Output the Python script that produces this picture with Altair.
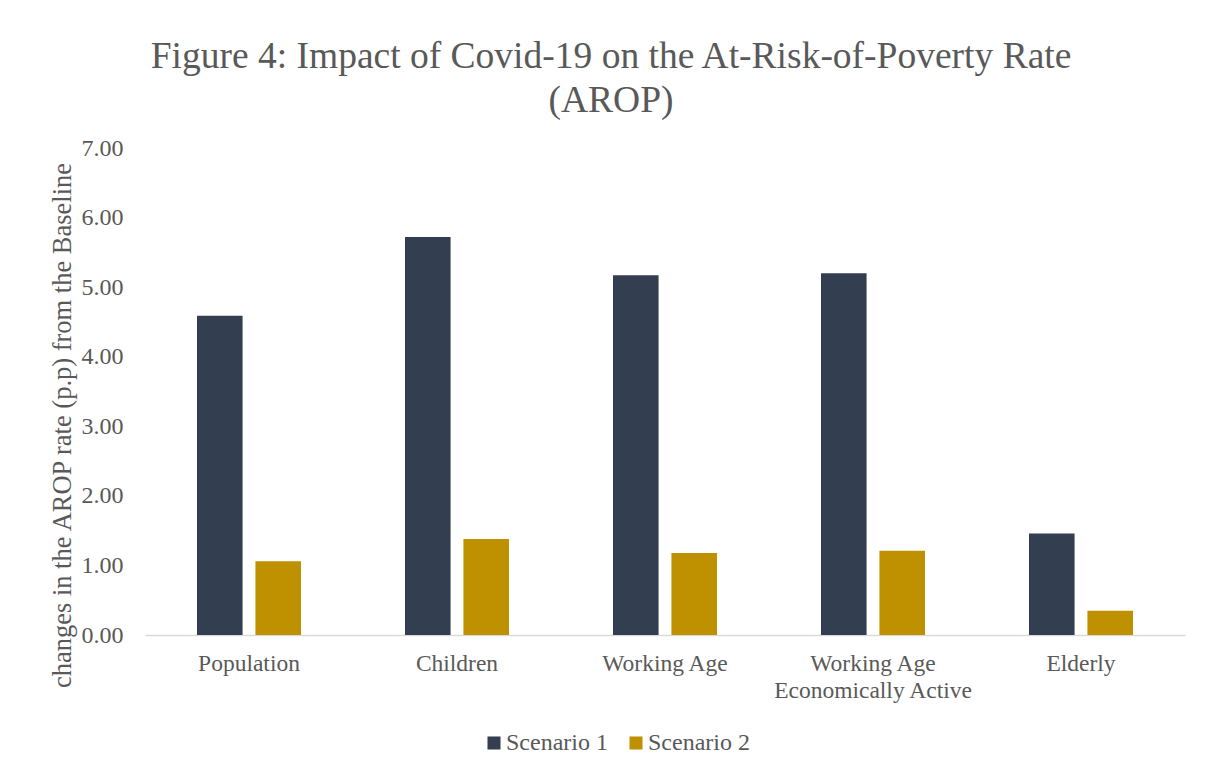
import altair as alt
import pandas as pd

categories = ["Population", "Children", "Working Age", "Working Age Economically Active", "Elderly"]
series_names = ["Scenario 1", "Scenario 2"]
scenario1 = [4.59, 5.72, 5.17, 5.20, 1.46]
scenario2 = [1.06, 1.38, 1.18, 1.21, 0.35]
y_ticks = [0, 1, 2, 3, 4, 5, 6, 7]

rows = []
for c, v1, v2 in zip(categories, scenario1, scenario2):
    rows.append({"category": c, "scenario": series_names[0], "value": v1})
    rows.append({"category": c, "scenario": series_names[1], "value": v2})
df = pd.DataFrame(rows)

FONT = "Liberation Serif"
TEXT = "#595959"

chart = alt.Chart(df).mark_bar().encode(
    x=alt.X("category:N", sort=categories,
            scale=alt.Scale(paddingInner=0.5, paddingOuter=0.25),
            axis=alt.Axis(title=None, labelAngle=0, labelFont=FONT, labelFontSize=23.5,
                          labelColor=TEXT, labelPadding=16, ticks=False, labelLimit=0,
                          domainColor="#D9D9D9", domainWidth=1.5, labelLineHeight=27,
                          labelExpr="datum.label == 'Working Age Economically Active' ? ['Working Age', 'Economically Active'] : datum.label")),
    xOffset=alt.XOffset("scenario:N", sort=series_names,
                        scale=alt.Scale(paddingInner=0.22, paddingOuter=0)),
    y=alt.Y("value:Q", scale=alt.Scale(domain=[0, 7], nice=False),
            axis=alt.Axis(values=y_ticks, format=".2f", grid=False, domain=False, ticks=False,
                          labelFont=FONT, labelFontSize=24, labelColor=TEXT, labelPadding=22,
                          title="changes in the AROP rate (p.p) from the Baseline",
                          titleFont=FONT, titleFontSize=26.5, titleFontWeight="normal",
                          titleColor=TEXT, titleAngle=270, titleAlign="center",
                          titleBaseline="middle", titleX=-83, titleY=277)),
    color=alt.Color("scenario:N", sort=series_names,
                    scale=alt.Scale(domain=series_names, range=["#333F50", "#BF9000"]),
                    legend=alt.Legend(title=None, orient="none", direction="horizontal",
                                      legendX=337, legendY=583, symbolType="square",
                                      symbolSize=170, symbolStrokeWidth=0,
                                      labelFont=FONT, labelFontSize=24, labelColor=TEXT,
                                      labelOffset=0, columnPadding=16)),
).properties(
    width=1040,
    height=487,
    title=alt.Title(["Figure 4: Impact of Covid-19 on the At-Risk-of-Poverty Rate", "(AROP)"],
                    font=FONT, fontSize=37.5, fontWeight="normal", color=TEXT,
                    anchor="middle", dx=-54, offset=17, lineHeight=44),
    autosize=alt.AutoSizeParams(type="none"),
    padding={"left": 137, "top": 140, "right": 15, "bottom": 125},
    background="white",
).configure_view(strokeWidth=0)

chart.save("out.html", embed_options={"renderer": "svg", "actions": False})
